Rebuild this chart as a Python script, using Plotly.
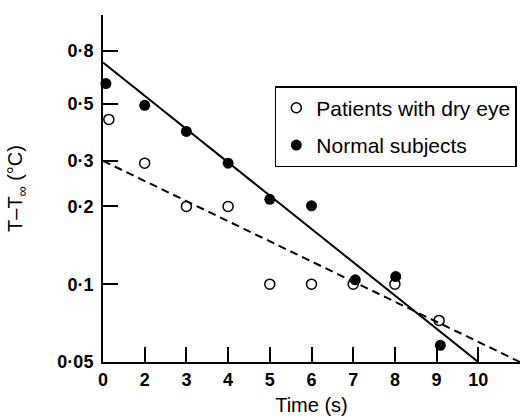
import plotly.graph_objects as go

# Data (x positions on the plotted time axis)
time_dry = [1.14, 2, 3, 4, 5, 6, 7, 8, 9.06]
temp_dry = [0.434, 0.294, 0.200, 0.200, 0.100, 0.100, 0.100, 0.100, 0.0724]

time_normal = [1.07, 2, 3, 4, 5, 6, 7.05, 8.02, 9.09]
temp_normal = [0.597, 0.492, 0.390, 0.294, 0.213, 0.201, 0.104, 0.107, 0.058]

fit_normal_x = [1, 10]
fit_normal_y = [0.72, 0.05]
fit_dry_x = [1, 11]
fit_dry_y = [0.30, 0.05]

x_tickvals = [1, 2, 3, 4, 5, 6, 7, 8, 9, 10, 11]
x_ticktext = ["0", "2", "3", "4", "5", "6", "7", "8", "9", "10", " "]
y_tickvals = [0.05, 0.1, 0.2, 0.3, 0.5, 0.8]
y_ticktext = ["0·05", "0·1", "0·2", "0·3", "0·5", "0·8"]

FONT = "Liberation Sans, Arial, sans-serif"

fig = go.Figure()
fig.add_trace(go.Scatter(x=fit_normal_x, y=fit_normal_y, mode="lines",
                         line=dict(color="black", width=2), showlegend=False,
                         hoverinfo="skip"))
fig.add_trace(go.Scatter(x=fit_dry_x, y=fit_dry_y, mode="lines",
                         line=dict(color="black", width=2, dash="8px,5px"),
                         showlegend=False, hoverinfo="skip"))
fig.add_trace(go.Scatter(x=time_dry, y=temp_dry, mode="markers",
                         name="Patients with dry eye", legendgroup="a",
                         marker=dict(symbol="circle-open", size=10, color="black",
                                     line=dict(width=1.5, color="black")),
                         cliponaxis=False))
fig.add_trace(go.Scatter(x=time_normal, y=temp_normal, mode="markers",
                         name="Normal subjects", legendgroup="b",
                         marker=dict(symbol="circle", size=11, color="black"),
                         cliponaxis=False))

fig.update_layout(
    width=522, height=416,
    margin=dict(l=103, r=2, t=15, b=54),
    paper_bgcolor="white", plot_bgcolor="white",
    font=dict(family=FONT, color="black", size=16),
    legend=dict(x=0.412, y=0.795, xanchor="left", yanchor="top",
                bordercolor="black", borderwidth=1.5, bgcolor="white",
                font=dict(family=FONT, size=21, color="black"),
                itemwidth=30, tracegroupgap=7),
    xaxis=dict(range=[1, 11], tickmode="array", tickvals=x_tickvals,
               ticktext=x_ticktext, ticks="inside", ticklen=15, tickwidth=1.5,
               tickcolor="black", showline=True, linecolor="black", linewidth=2,
               showgrid=False, zeroline=False,
               tickfont=dict(family=FONT, size=18, weight="bold"),
               title=dict(text="Time (s)", font=dict(family=FONT, size=20),
                          standoff=9)),
    yaxis=dict(type="log", range=[-1.30103, 0.0414], tickmode="array",
               tickvals=y_tickvals, ticktext=y_ticktext, ticks="inside",
               ticklen=15, tickwidth=1.5, tickcolor="black", showline=True,
               linecolor="black", linewidth=2, showgrid=False, zeroline=False,
               ticklabelstandoff=4,
               tickfont=dict(family=FONT, size=18, weight="bold"),
               title=dict(text="T–T<sub>∞</sub> (°C)",
                          font=dict(family=FONT, size=20), standoff=29)),
)

fig.write_html("out.html")
